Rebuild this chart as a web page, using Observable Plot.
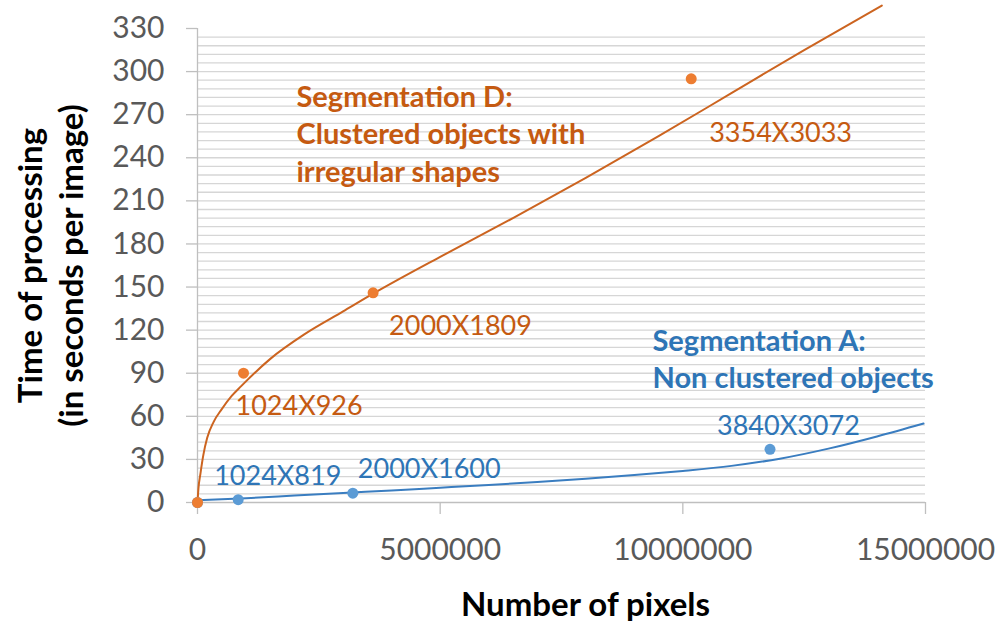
<!DOCTYPE html>
<html><head><meta charset="utf-8">
<script src="https://cdn.jsdelivr.net/npm/d3@7"></script>
<script src="https://cdn.jsdelivr.net/npm/@observablehq/plot@0.6"></script>
<style>body{margin:0;background:#fff;}</style>
</head><body><div id="chart"></div>
<script>
// Segmentation D (clustered objects with irregular shapes)
const pixelsD = [0, 948224, 3618000, 10172682];
const timeD = [0, 90, 146, 295];
const labelsD = ["", "1024X926", "2000X1809", "3354X3033"];
// Segmentation A (non clustered objects)
const pixelsA = [0, 838656, 3200000, 11796480];
const timeA = [0, 2, 6.5, 37];
const labelsA = ["", "1024X819", "2000X1600", "3840X3072"];
// Trendlines
const trendDx = [0, 20000, 60000, 120000, 200000, 330000, 500000, 700000, 900000, 1500000, 2200000, 3000000, 3600000, 5000000, 6500000, 8000000, 9500000, 11000000, 12500000, 14100000];
const trendDy = [0, 10, 20, 33, 45, 56, 65, 74, 81, 100, 117, 133, 145, 171, 198, 226, 255, 285, 315, 346];
const trendAx = [0, 1000000, 2000000, 3000000, 4000000, 5000000, 6000000, 7000000, 8000000, 9000000, 10000000, 11000000, 12000000, 13000000, 14000000, 14960000];
const trendAy = [1.5, 3, 4.8, 6.6, 8.4, 10.3, 12.2, 14.3, 16.6, 19.1, 22, 25.5, 30.5, 37.5, 46, 55];
// Axes
const yTicks = [0, 30, 60, 90, 120, 150, 180, 210, 240, 270, 300, 330];
const xTicks = [0, 5000000, 10000000, 15000000];
const xTitle = "Number of pixels";
const yTitle = "Time of processing\n(in seconds per image)";
const annD = "Segmentation D:\nClustered objects with\nirregular shapes";
const annA = "Segmentation A:\nNon clustered objects";

const ORANGE_DOT = "#ED7D31", ORANGE_LINE = "#CC6420", ORANGE_TXT = "#C55A11";
const BLUE_DOT = "#5B9BD5", BLUE_LINE = "#3A7DC0", BLUE_TXT = "#2E75B6";

const gridY = d3.range(6, 325, 6);
const idxD = d3.range(pixelsD.length), idxA = d3.range(pixelsA.length);
const idxTD = d3.range(trendDx.length), idxTA = d3.range(trendAx.length);

const offD = [null, [-8, 33], [16, 34], [18, 55]];
const offA = [null, [-24, -23], [5, -24], [-53, -23]];

const labelMarks = [];
for (let i = 1; i < labelsD.length; i++) {
  labelMarks.push(Plot.text([i], {x: j => pixelsD[j], y: j => timeD[j], text: j => labelsD[j],
    dx: offD[i][0], dy: offD[i][1], textAnchor: "start", fill: ORANGE_TXT, fontSize: 27}));
}
for (let i = 1; i < labelsA.length; i++) {
  labelMarks.push(Plot.text([i], {x: j => pixelsA[j], y: j => timeA[j], text: j => labelsA[j],
    dx: offA[i][0], dy: offA[i][1], textAnchor: "start", fill: BLUE_TXT, fontSize: 27}));
}

const chart = Plot.plot({
  width: 1005, height: 632,
  marginLeft: 197, marginRight: 80, marginTop: 28, marginBottom: 130,
  style: {fontFamily: "Lato, 'Open Sans', sans-serif", background: "#fff", overflow: "visible"},
  x: {domain: [0, 15000000]},
  y: {domain: [0, 330]},
  marks: [
    Plot.ruleY(gridY, {stroke: "#d6d6d6", strokeWidth: 1.3}),
    Plot.ruleX([0], {stroke: "#bfbfbf", strokeWidth: 1.3}),
    Plot.ruleY([0], {stroke: "#bfbfbf", strokeWidth: 1.3}),
    Plot.axisY({ticks: yTicks, tickSize: 11, tickPadding: 22, fontSize: 30, fill: "#595959", stroke: "#bfbfbf", strokeWidth: 1.3, label: null}),
    Plot.axisX({ticks: xTicks, tickFormat: d3.format("d"), tickSize: 12, tickPadding: 24, fontSize: 30, fill: "#595959", stroke: "#bfbfbf", strokeWidth: 1.3, label: null}),
    Plot.line(idxTA, {x: i => trendAx[i], y: i => trendAy[i], stroke: BLUE_LINE, strokeWidth: 2, curve: "monotone-x"}),
    Plot.line(idxTD, {x: i => trendDx[i], y: i => trendDy[i], stroke: ORANGE_LINE, strokeWidth: 2, curve: "monotone-x"}),
    Plot.dot(idxA, {x: i => pixelsA[i], y: i => timeA[i], r: 5.5, fill: BLUE_DOT}),
    Plot.dot(idxD, {x: i => pixelsD[i], y: i => timeD[i], r: 5.5, fill: ORANGE_DOT}),
    ...labelMarks,
    Plot.text([annD], {frameAnchor: "top-left", dx: 99, dy: 52, lineAnchor: "top", textAnchor: "start", lineHeight: 1.29, fontSize: 29, fontWeight: "bold", fill: ORANGE_TXT}),
    Plot.text([annA], {frameAnchor: "top-left", dx: 455, dy: 296, lineAnchor: "top", textAnchor: "start", lineHeight: 1.29, fontSize: 29, fontWeight: "bold", fill: BLUE_TXT}),
    Plot.text([xTitle], {frameAnchor: "bottom", dx: 24, dy: 103, lineAnchor: "middle", textAnchor: "middle", fontSize: 33, fontWeight: "bold", fill: "#000"}),
    Plot.text([yTitle], {frameAnchor: "left", dx: -148, rotate: -90, textAnchor: "middle", lineAnchor: "middle", lineHeight: 1.25, fontSize: 33, fontWeight: "bold", fill: "#000"})
  ]
});
document.getElementById("chart").appendChild(chart);
</script>
</body></html>
